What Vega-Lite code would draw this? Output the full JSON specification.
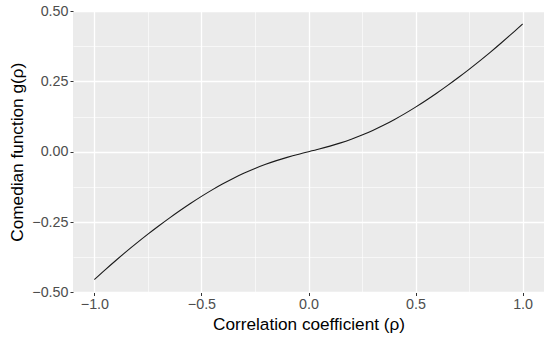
{
  "$schema": "https://vega.github.io/schema/vega-lite/v6.json",
  "width": 471,
  "height": 281.5,
  "autosize": {"type": "none"},
  "padding": {"left": 73, "top": 11, "right": 6, "bottom": 48.5},
  "background": "white",
  "config": {
    "view": {"fill": "#EBEBEB", "stroke": null},
    "font": "Liberation Sans",
    "axis": {
      "domain": false,
      "gridColor": "white",
      "tickColor": "#333333",
      "labelColor": "#4D4D4D",
      "labelFont": "Liberation Sans",
      "labelFontSize": 14.3,
      "titleFont": "Liberation Sans",
      "titleFontSize": 17.2,
      "titleFontWeight": "normal",
      "titleColor": "black"
    }
  },
  "data": {
    "values": [
      {"rho": -1.0, "g": -0.4544},
      {"rho": -0.95, "g": -0.4199},
      {"rho": -0.9, "g": -0.3866},
      {"rho": -0.85, "g": -0.3543},
      {"rho": -0.8, "g": -0.3232},
      {"rho": -0.75, "g": -0.2931},
      {"rho": -0.7, "g": -0.2641},
      {"rho": -0.65, "g": -0.2361},
      {"rho": -0.6, "g": -0.2091},
      {"rho": -0.55, "g": -0.1833},
      {"rho": -0.5, "g": -0.1587},
      {"rho": -0.45, "g": -0.1355},
      {"rho": -0.4, "g": -0.1139},
      {"rho": -0.35, "g": -0.0939},
      {"rho": -0.3, "g": -0.0757},
      {"rho": -0.25, "g": -0.0593},
      {"rho": -0.2, "g": -0.0446},
      {"rho": -0.15, "g": -0.0315},
      {"rho": -0.1, "g": -0.02},
      {"rho": -0.05, "g": -0.0095},
      {"rho": 0.0, "g": 0.0},
      {"rho": 0.05, "g": 0.0095},
      {"rho": 0.1, "g": 0.02},
      {"rho": 0.15, "g": 0.0315},
      {"rho": 0.2, "g": 0.0446},
      {"rho": 0.25, "g": 0.0593},
      {"rho": 0.3, "g": 0.0757},
      {"rho": 0.35, "g": 0.0939},
      {"rho": 0.4, "g": 0.1139},
      {"rho": 0.45, "g": 0.1355},
      {"rho": 0.5, "g": 0.1587},
      {"rho": 0.55, "g": 0.1833},
      {"rho": 0.6, "g": 0.2091},
      {"rho": 0.65, "g": 0.2361},
      {"rho": 0.7, "g": 0.2641},
      {"rho": 0.75, "g": 0.2931},
      {"rho": 0.8, "g": 0.3232},
      {"rho": 0.85, "g": 0.3543},
      {"rho": 0.9, "g": 0.3866},
      {"rho": 0.95, "g": 0.4199},
      {"rho": 1.0, "g": 0.4544}
    ]
  },
  "mark": {"type": "line", "color": "#1a1a1a", "strokeWidth": 1.1, "interpolate": "natural"},
  "encoding": {
    "x": {
      "field": "rho",
      "type": "quantitative",
      "scale": {"domain": [-1.1, 1.1], "nice": false, "zero": false},
      "axis": {
        "title": "Correlation coefficient (ρ)",
        "values": [-1, -0.75, -0.5, -0.25, 0, 0.25, 0.5, 0.75, 1],
        "format": ".1f",
        "labelExpr": "abs(round(datum.value*2) - datum.value*2) < 1e-6 ? datum.label : ''",
        "gridWidth": {"condition": {"test": "abs(round(datum.value*2) - datum.value*2) < 1e-6", "value": 1.3}, "value": 0.6},
        "tickSize": {"condition": {"test": "abs(round(datum.value*2) - datum.value*2) < 1e-6", "value": 3}, "value": 0},
        "tickWidth": 1,
        "labelPadding": 2,
        "titlePadding": 4,
        "labelFlush": false
      }
    },
    "y": {
      "field": "g",
      "type": "quantitative",
      "scale": {"domain": [-0.5005, 0.5005], "nice": false, "zero": false},
      "axis": {
        "title": "Comedian function  g(ρ)",
        "values": [-0.5, -0.375, -0.25, -0.125, 0, 0.125, 0.25, 0.375, 0.5],
        "format": ".2f",
        "labelExpr": "abs(round(datum.value*4) - datum.value*4) < 1e-6 ? datum.label : ''",
        "gridWidth": {"condition": {"test": "abs(round(datum.value*4) - datum.value*4) < 1e-6", "value": 1.3}, "value": 0.6},
        "tickSize": {"condition": {"test": "abs(round(datum.value*4) - datum.value*4) < 1e-6", "value": 3}, "value": 0},
        "tickWidth": 1,
        "labelPadding": 2,
        "titlePadding": 5,
        "labelFlush": false
      }
    }
  }
}
